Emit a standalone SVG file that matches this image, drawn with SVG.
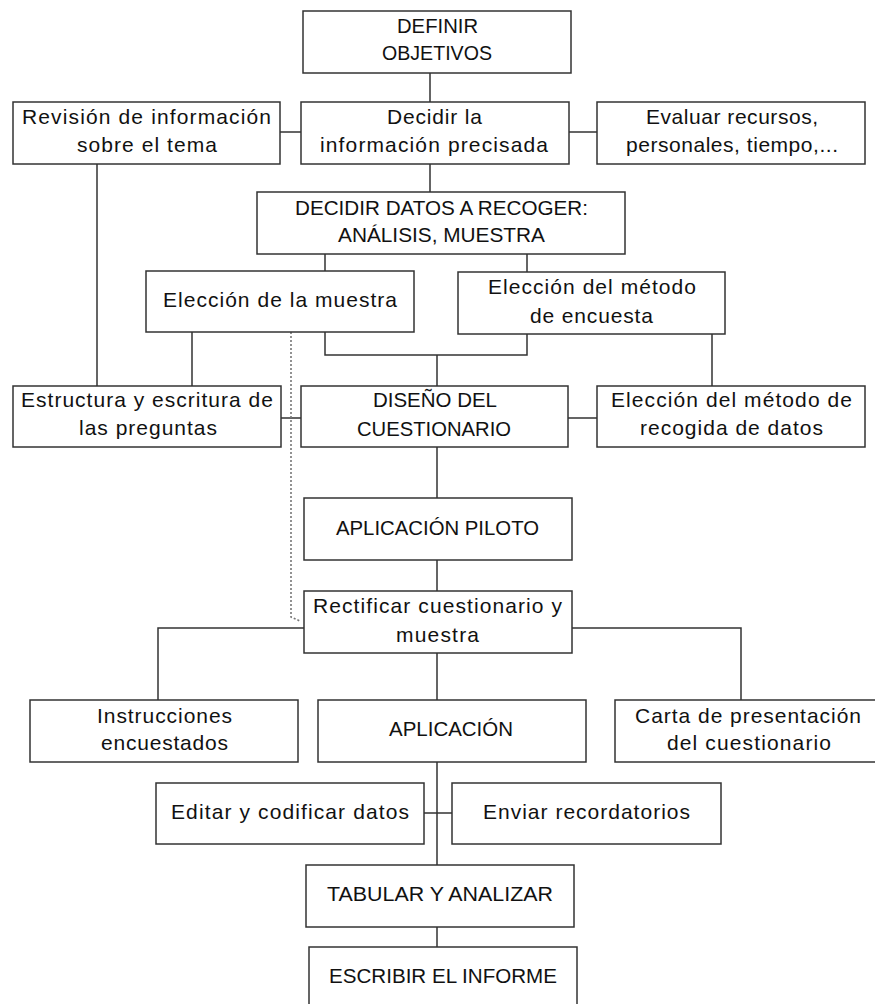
<svg xmlns="http://www.w3.org/2000/svg" width="875" height="1004" viewBox="0 0 875 1004">
<style>
.b{fill:#fff;stroke:#333;stroke-width:1.5}
.c{fill:none;stroke:#333;stroke-width:1.5}
.d{fill:none;stroke:#777;stroke-width:1.6;stroke-dasharray:2 2}
text{font-family:"Liberation Sans",Arial,sans-serif;font-size:21px;fill:#111;text-anchor:middle}
text.u{font-size:19.5px}
</style>
<rect width="875" height="1004" fill="#fff"/>
<g id="connectors">
<path class="c" d="M430,73V102M280,132H301M569,132H597M430,164V192M97,164V386M325,254V271M527,254V272M192,332V386M325,332V355H527V334M437,355V386M712,334V386M281,418H301M568,418H597M437,447V498M437,560V591M304,628H158V700M572,628H741V700M437,653V700M437,762V865M424,813H452M437,927V947"/>
<path class="d" d="M291,332V617L300,621"/>
</g>
<g id="n-definir"><rect class="b" x="303" y="11" width="268" height="62"/><text class="u" x="437.5" y="33" textLength="81" lengthAdjust="spacingAndGlyphs">DEFINIR</text><text class="u" x="437" y="60" textLength="110" lengthAdjust="spacingAndGlyphs">OBJETIVOS</text></g>
<g id="n-revision"><rect class="b" x="13" y="102" width="267" height="62"/><text x="146.5" y="124" textLength="249" lengthAdjust="spacing">Revisión de información</text><text x="147" y="152" textLength="140" lengthAdjust="spacing">sobre el tema</text></g>
<g id="n-decidir"><rect class="b" x="301" y="102" width="268" height="62"/><text x="434.5" y="124" textLength="95" lengthAdjust="spacing">Decidir la</text><text x="434" y="152" textLength="228" lengthAdjust="spacing">información precisada</text></g>
<g id="n-evaluar"><rect class="b" x="597" y="102" width="268" height="62"/><text x="732" y="124" textLength="172" lengthAdjust="spacing">Evaluar recursos,</text><text x="732" y="152" textLength="212" lengthAdjust="spacing">personales, tiempo,...</text></g>
<g id="n-datos"><rect class="b" x="257" y="192" width="368" height="62"/><text class="u" x="441.5" y="215" textLength="293" lengthAdjust="spacingAndGlyphs">DECIDIR DATOS A RECOGER:</text><text class="u" x="441.5" y="242" textLength="207" lengthAdjust="spacingAndGlyphs">ANÁLISIS, MUESTRA</text></g>
<g id="n-muestra"><rect class="b" x="146" y="271" width="268" height="61"/><text x="280" y="307" textLength="234" lengthAdjust="spacing">Elección de la muestra</text></g>
<g id="n-encuesta"><rect class="b" x="458" y="272" width="267" height="62"/><text x="592" y="294" textLength="208" lengthAdjust="spacing">Elección del método</text><text x="591.5" y="323" textLength="123" lengthAdjust="spacing">de encuesta</text></g>
<g id="n-estructura"><rect class="b" x="13" y="386" width="268" height="61"/><text x="147" y="407" textLength="252" lengthAdjust="spacing">Estructura y escritura de</text><text x="148" y="435" textLength="138" lengthAdjust="spacing">las preguntas</text></g>
<g id="n-diseno"><rect class="b" x="301" y="386" width="267" height="61"/><text class="u" x="435" y="407" textLength="124" lengthAdjust="spacingAndGlyphs">DISEÑO DEL</text><text class="u" x="434" y="436" textLength="154" lengthAdjust="spacingAndGlyphs">CUESTIONARIO</text></g>
<g id="n-recogida"><rect class="b" x="597" y="386" width="268" height="61"/><text x="731.5" y="407" textLength="241" lengthAdjust="spacing">Elección del método de</text><text x="731.5" y="435" textLength="183" lengthAdjust="spacing">recogida de datos</text></g>
<g id="n-piloto"><rect class="b" x="304" y="498" width="268" height="62"/><text class="u" x="437.5" y="535" textLength="203" lengthAdjust="spacingAndGlyphs">APLICACIÓN PILOTO</text></g>
<g id="n-rectificar"><rect class="b" x="304" y="591" width="268" height="62"/><text x="437.5" y="613" textLength="249" lengthAdjust="spacing">Rectificar cuestionario y</text><text x="437.5" y="642" textLength="83" lengthAdjust="spacing">muestra</text></g>
<g id="n-instrucciones"><rect class="b" x="30" y="700" width="268" height="62"/><text x="164.5" y="723" textLength="135" lengthAdjust="spacing">Instrucciones</text><text x="164.5" y="750" textLength="127" lengthAdjust="spacing">encuestados</text></g>
<g id="n-aplicacion"><rect class="b" x="318" y="700" width="268" height="62"/><text class="u" x="451" y="736" textLength="124" lengthAdjust="spacingAndGlyphs">APLICACIÓN</text></g>
<g id="n-carta"><rect class="b" x="615" y="700" width="268" height="62"/><text x="748" y="723" textLength="226" lengthAdjust="spacing">Carta de presentación</text><text x="749" y="750" textLength="164" lengthAdjust="spacing">del cuestionario</text></g>
<g id="n-editar"><rect class="b" x="156" y="783" width="268" height="61"/><text x="290" y="819" textLength="238" lengthAdjust="spacing">Editar y codificar datos</text></g>
<g id="n-enviar"><rect class="b" x="452" y="783" width="269" height="61"/><text x="586.5" y="819" textLength="207" lengthAdjust="spacing">Enviar recordatorios</text></g>
<g id="n-tabular"><rect class="b" x="306" y="865" width="268" height="62"/><text class="u" x="440" y="901" textLength="226" lengthAdjust="spacingAndGlyphs">TABULAR Y ANALIZAR</text></g>
<g id="n-escribir"><rect class="b" x="309" y="947" width="268" height="62"/><text class="u" x="443" y="983" textLength="228" lengthAdjust="spacingAndGlyphs">ESCRIBIR EL INFORME</text></g>
</svg>
